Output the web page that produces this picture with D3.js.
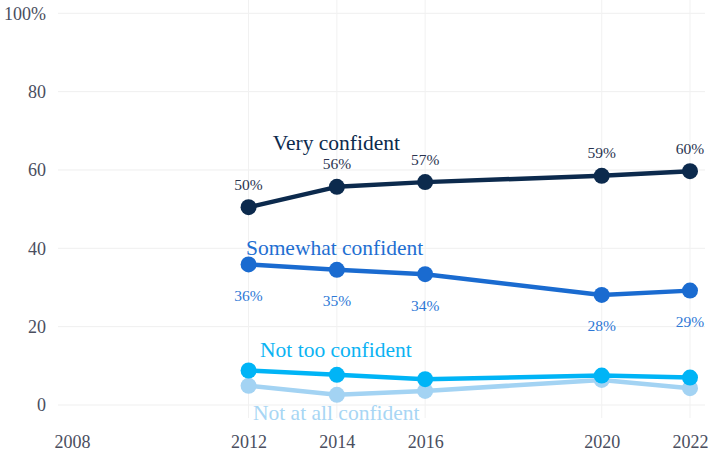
<!DOCTYPE html>
<html><head><meta charset="utf-8">
<script src="https://cdn.jsdelivr.net/npm/d3@7"></script>
<style>body{margin:0;background:#fff}svg{display:block}text{font-family:"Liberation Serif","DejaVu Serif",serif}</style>
</head><body><svg id="c" width="710" height="452"></svg>
<script>
const years = [2012, 2014, 2016, 2020, 2022];
const xTicks = [2008, 2012, 2014, 2016, 2020, 2022];
const yTicks = [0, 20, 40, 60, 80, 100];
const veryConfident = [50.5, 55.7, 56.9, 58.5, 59.7];
const somewhatConfident = [35.9, 34.5, 33.4, 28.1, 29.2];
const notTooConfident = [8.8, 7.7, 6.6, 7.5, 7.0];
const notAtAllConfident = [4.9, 2.6, 3.6, 6.4, 4.3];
const veryLabels = ["50%", "56%", "57%", "59%", "60%"];
const somewhatLabels = ["36%", "35%", "34%", "28%", "29%"];
const seriesNames = ["Very confident", "Somewhat confident", "Not too confident", "Not at all confident"];

const series = [
  {name: seriesNames[0], values: veryConfident, color: "#0c2a4d", labels: veryLabels, labelDy: -23, labelColor: "#2a3450", nameX: 2012.55, nameY: 150, nameColor: "#0c2a4d"},
  {name: seriesNames[1], values: somewhatConfident, color: "#1a6bd0", labels: somewhatLabels, labelDy: 31, labelColor: "#2e78d6", nameX: 2011.94, nameY: 255, nameColor: "#1f6fd2"},
  {name: seriesNames[2], values: notTooConfident, color: "#00b4f6", labels: null, nameX: 2012.26, nameY: 357, nameColor: "#0bb3f3"},
  {name: seriesNames[3], values: notAtAllConfident, color: "#a3d3f3", labels: null, nameX: 2012.1, nameY: 420, nameColor: "#a8d6f4"}
];

const svg = d3.select("#c");
const x = d3.scaleLinear().domain([2008, 2022]).range([72, 690]);
const y = d3.scaleLinear().domain([0, 100]).range([405, 13.3]);

svg.append("g").selectAll("line").data(yTicks).join("line")
  .attr("x1", 58).attr("x2", 705).attr("y1", d => y(d)).attr("y2", d => y(d))
  .attr("stroke", "#efefef").attr("stroke-width", 1);
svg.append("g").selectAll("line").data(years).join("line")
  .attr("x1", d => x(d)).attr("x2", d => x(d)).attr("y1", 0).attr("y2", 418)
  .attr("stroke", "#f1f1f1").attr("stroke-width", 1);

const yAxis = d3.axisLeft(y).tickValues(yTicks).tickSize(0).tickPadding(0)
  .tickFormat(d => d === 100 ? "100%" : d);
const yg = svg.append("g").attr("transform", "translate(46,0)").call(yAxis);
yg.select(".domain").remove();
yg.selectAll("text").attr("font-size", 18).attr("fill", "#4a4e5e").attr("dy", "0.32em")
  .style("font-family", '"Liberation Serif",serif');

const xAxis = d3.axisBottom(x).tickValues(xTicks).tickSize(0).tickPadding(0).tickFormat(d3.format("d"));
const xg = svg.append("g").attr("transform", "translate(0,435)").call(xAxis);
xg.select(".domain").remove();
xg.selectAll("text").attr("font-size", 18).attr("fill", "#4a4e5e")
  .style("font-family", '"Liberation Serif",serif');

const line = d3.line().x((d, i) => x(years[i])).y(d => y(d));

[...series].reverse().forEach(s => {
  const g = svg.append("g");
  g.append("path").attr("d", line(s.values)).attr("fill", "none")
    .attr("stroke", s.color).attr("stroke-width", 4.5).attr("stroke-linejoin", "round");
  g.selectAll("circle").data(s.values).join("circle")
    .attr("cx", (d, i) => x(years[i])).attr("cy", d => y(d)).attr("r", 8)
    .attr("fill", s.color);
});

series.forEach(s => {
  if (s.labels) {
    svg.append("g").selectAll("text").data(s.values).join("text")
      .attr("x", (d, i) => x(years[i])).attr("y", d => y(d) + s.labelDy)
      .attr("text-anchor", "middle").attr("dy", "0.35em")
      .attr("font-size", 15.5).attr("fill", s.labelColor)
      .text((d, i) => s.labels[i]);
  }
  svg.append("text").attr("x", x(s.nameX)).attr("y", s.nameY)
    .attr("font-size", 21.5).attr("fill", s.nameColor).text(s.name);
});
</script></body></html>
